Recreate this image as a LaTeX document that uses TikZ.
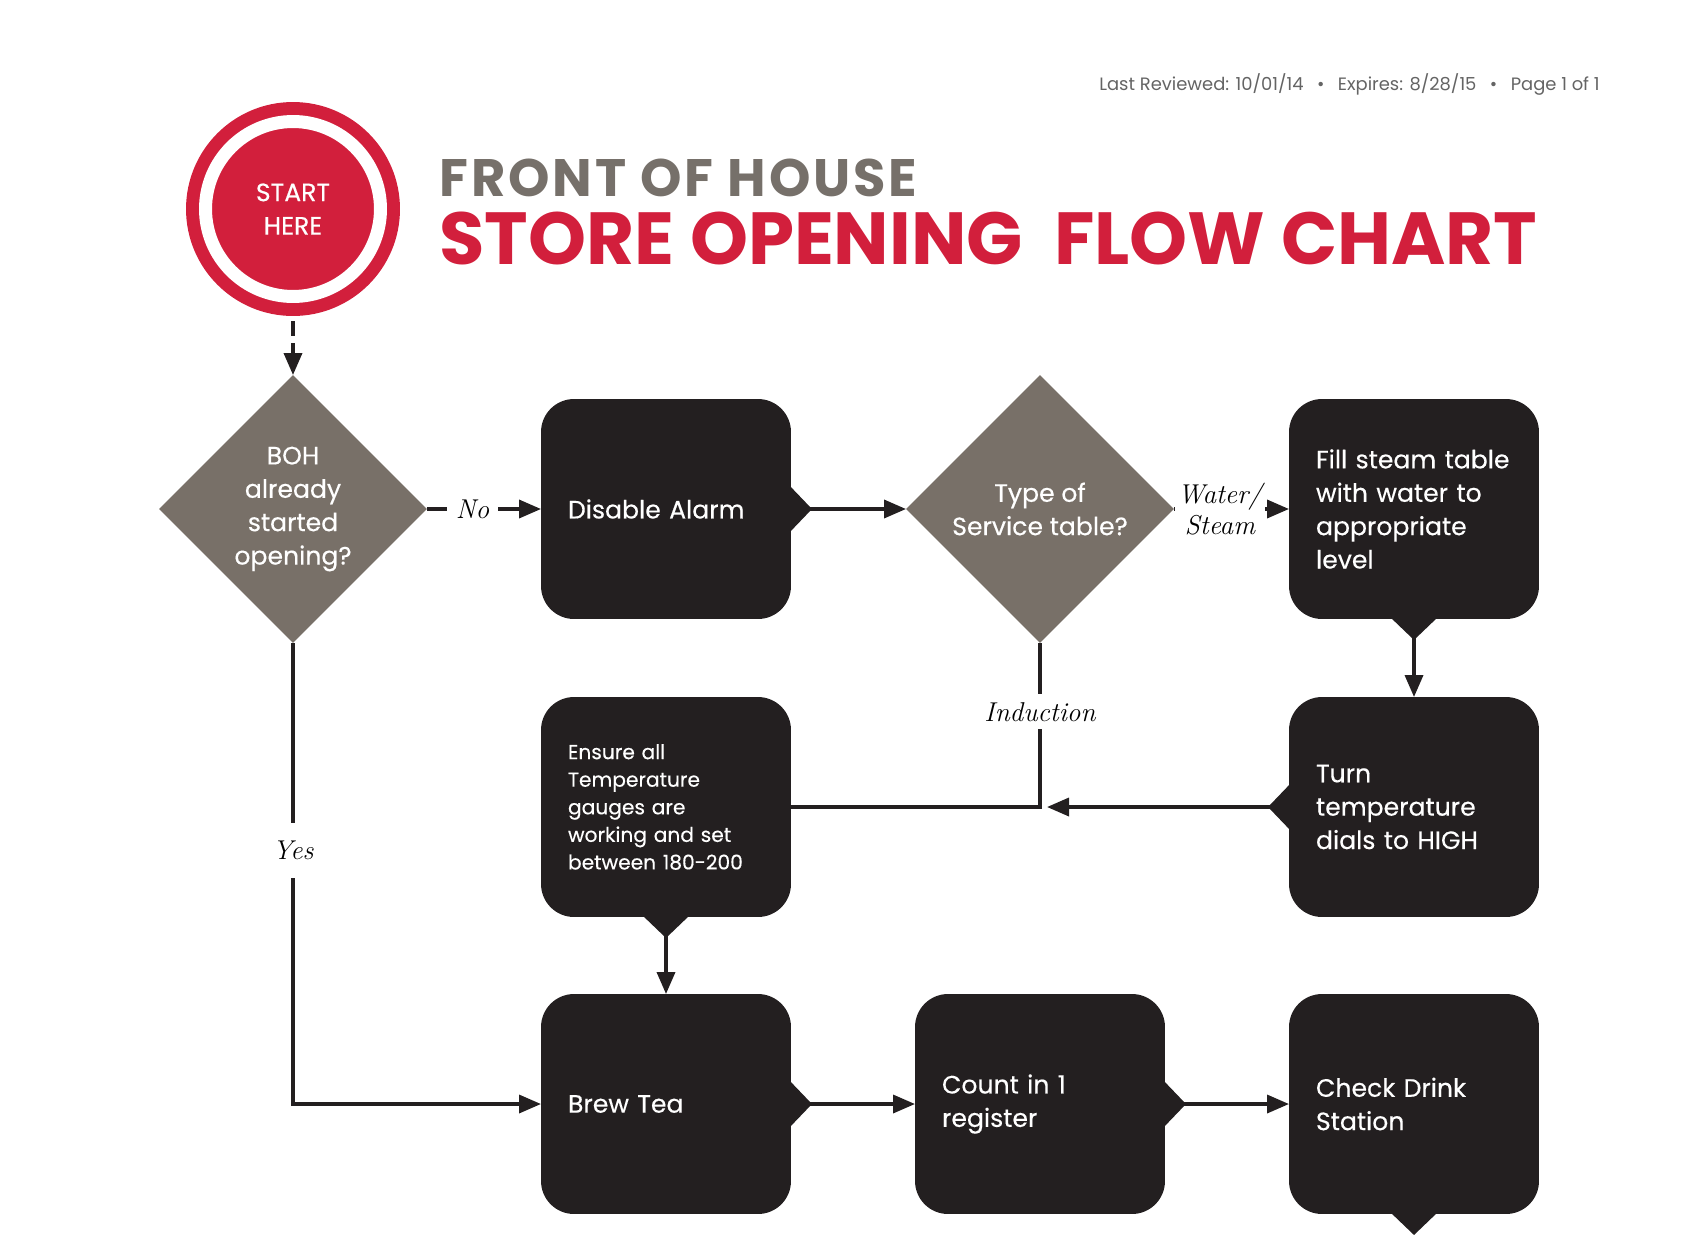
\documentclass[tikz,border=0pt]{standalone}
\usepackage{fontspec}
\usepackage{xcolor}
\usepackage{tikz}
\usetikzlibrary{shapes.geometric, arrows.meta}
\newfontfamily\poppins{Poppins}
\newfontfamily\poppinsmed{Poppins}[FakeBold=0.35]
\newfontfamily\poppinswide{Poppins}[LetterSpace=5.5]

\definecolor{brandred}{RGB}{210,31,60}
\definecolor{diamondgray}{RGB}{120,112,104}
\definecolor{boxblack}{RGB}{35,31,32}
\definecolor{titlegray}{RGB}{118,112,106}
\definecolor{headergray}{RGB}{100,100,100}

\begin{document}
\begin{tikzpicture}[x=0.02cm, y=-0.02cm]
    \tikzset{
        step_box/.style={fill=boxblack, rounded corners=0.66cm, minimum width=5cm, minimum height=4.4cm,
            text width=3.92cm, inner xsep=0.54cm, inner ysep=0pt, outer sep=0pt, align=left,
            text=white, font=\poppinsmed\fontsize{14.3}{19}\selectfont},
        small_text/.style={font=\poppinsmed\fontsize{11.5}{15.7}\selectfont},
        decision/.style={diamond, aspect=1, fill=diamondgray, minimum width=5.36cm, minimum height=5.36cm,
            inner sep=0pt, outer sep=0pt, align=center, text=white, font=\poppinsmed\fontsize{14.3}{19}\selectfont},
        start_disc/.style={circle, fill=brandred, draw=brandred, line width=0.26cm, double=white,
            double distance=0.26cm, minimum size=3.5cm, inner sep=0pt, outer sep=0.5cm, align=center,
            text=white, font=\poppinsmed\fontsize{14.3}{19}\selectfont},
        flow_line/.style={line width=2pt, draw=boxblack},
        flow_arrow/.style={flow_line, -{Triangle[length=0.44cm, width=0.36cm]}},
        branch/.style={fill=white, inner xsep=0.18cm, inner ysep=0.1cm, align=center,
            font=\itshape\fontsize{15.5}{17.8}\selectfont}
    }
    \useasboundingbox (0,0) rectangle (1700,1234);

    % --- Kopfzeile und Titel ---
    \node[anchor=base east, inner sep=0pt, text=headergray, font=\poppins\fontsize{10.2}{12}\selectfont]
        (reviewed) at (1600,90) {Last Reviewed: 10/01/14\hspace{0.75em}\textbullet\hspace{0.75em}Expires: 8/28/15\hspace{0.75em}\textbullet\hspace{0.75em}Page 1 of 1};
    \node[anchor=base west, inner sep=0pt, text=titlegray, font=\poppinswide\bfseries\fontsize{30}{36}\selectfont]
        (house) at (439,196) {FRONT OF HOUSE};
    \node[anchor=base west, inner sep=0pt, text=brandred, font=\poppins\bfseries\fontsize{42}{50}\selectfont]
        (title) at (439,264) {STORE OPENING\ \ FLOW CHART};

    % --- Knoten ---
    \node[start_disc] (start) at (293,209) {START\\HERE};
    \node[decision] (boh) at (293,509) {BOH\\already\\started\\opening?};
    \node[step_box] (alarm) at (666,509) {Disable Alarm};
    \node[decision] (service) at (1040,509) {Type of\\Service table?};
    \node[step_box] (filltable) at (1414,509) {Fill steam table\\with water to\\appropriate\\level};
    \node[step_box] (turn) at (1414,807) {Turn\\temperature\\dials to HIGH};
    \node[step_box, small_text] (ensure) at (666,807) {Ensure all\\Temperature\\gauges are\\working and set\\between 180-200};
    \node[step_box] (brew) at (666,1104) {Brew Tea};
    \node[step_box] (count) at (1040,1104) {Count in 1\\register};
    \node[step_box] (check) at (1414,1104) {Check Drink\\Station};

    % Spitzen an den Kaesten
    \foreach \n/\r in {alarm/0, brew/0, count/0, filltable/-90, ensure/-90, check/-90, turn/180} {
        \fill[boxblack, shift={(\n.\r)}, rotate=\r] (-2,-24) -- (21,0) -- (-2,24) -- cycle;
    }

    % --- Verbindungen ---
    \draw[flow_arrow, dash pattern=on 0.3cm off 0.14cm] (start) -- (boh);
    \draw[flow_arrow] (boh.east) -- node[branch, pos=0.4] {No} (alarm.west);
    \draw[flow_arrow] (alarm.east) -- (service.west);
    \draw[flow_arrow] (service.east) -- node[branch, pos=0.4, inner xsep=0.06cm] {Water/\\Steam} (filltable.west);
    \draw[flow_arrow] (filltable.south) -- (turn.north);
    \draw[flow_arrow, shorten >=0.14cm] (turn.west) -- (service.south |- turn.west);
    \draw[flow_line] (service.south) -- node[branch, pos=0.42, inner ysep=0.16cm] {Induction} (service.south |- ensure.east) -- (ensure.east);
    \draw[flow_arrow] (ensure.south) -- (brew.north);
    \draw[flow_arrow] (boh.south) -- node[branch, pos=0.45, inner ysep=0.36cm] {Yes} (boh.south |- brew.west) -- (brew.west);
    \draw[flow_arrow] (brew.east) -- (count.west);
    \draw[flow_arrow] (count.east) -- (check.west);

\end{tikzpicture}
\end{document}
